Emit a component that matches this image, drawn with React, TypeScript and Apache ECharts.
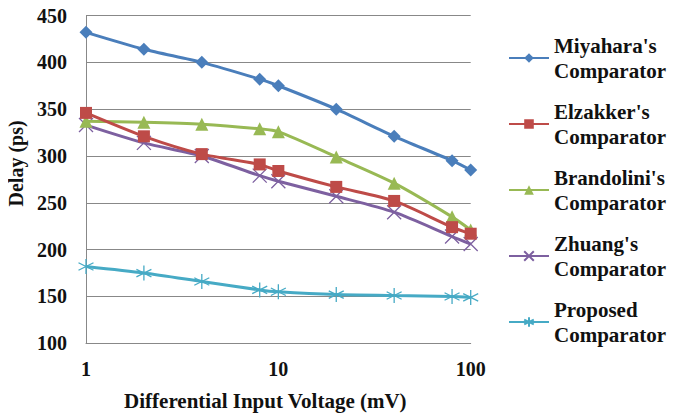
import React, { useEffect, useRef } from "react";
import * as echarts from "echarts";

const voltages = [1, 2, 4, 8, 10, 20, 40, 80, 100];
const miyahara = [432, 414, 400, 382, 375, 350, 321, 295, 285];
const elzakker = [346, 321, 302, 291, 284, 267, 252, 224, 217];
const brandolini = [337, 336, 334, 329, 326, 299, 271, 235, 221];
const zhuang = [333, 314, 300, 279, 273, 257, 240, 214, 206];
const proposed = [182, 175, 166, 157, 155, 152, 151, 150, 149];

const seriesNames = [
  "Miyahara's Comparator",
  "Elzakker's Comparator",
  "Brandolini's Comparator",
  "Zhuang's Comparator",
  "Proposed Comparator",
];
const seriesData = [miyahara, elzakker, brandolini, zhuang, proposed];
const colors = ["#4A7EBB", "#BE4B48", "#98B954", "#7D60A0", "#46AAC5"];
const symbols = [
  "diamond",
  "rect",
  "triangle",
  "path://M0,0 L10,10 M10,0 L0,10",
  "path://M5,0 L5,10 M0.7,2.5 L9.3,7.5 M0.7,7.5 L9.3,2.5",
];
const symbolSizes = [13, 12, 13, 14, 15];

const FONT = "Liberation Serif";

export default function App() {
  const ref = useRef<HTMLDivElement>(null);
  useEffect(() => {
    if (!ref.current) return;
    const chart = echarts.init(ref.current, null, { renderer: "svg" });
    const series = seriesNames.map((name, i) => {
      const isStroke = i >= 3;
      return {
        name,
        type: "line",
        data: voltages.map((v, j) => [v, seriesData[i][j]]),
        smooth: 0.25,
        symbol: symbols[i],
        symbolSize: symbolSizes[i],
        showAllSymbol: true,
        lineStyle: { color: colors[i], width: 3 },
        itemStyle: isStroke
          ? { color: colors[i], borderColor: colors[i], borderWidth: 1.3 }
          : { color: colors[i], borderWidth: 0 },
        z: 10 - i,
      };
    });
    chart.setOption({
      animation: false,
      color: colors,
      textStyle: { fontFamily: FONT },
      grid: {
        left: 78,
        right: 210.3,
        top: 7.5,
        bottom: 72.7,
        containLabel: false,
        outerBoundsMode: "none",
      },
      xAxis: {
        type: "log",
        logBase: 10,
        min: 1,
        max: 100,
        name: "Differential Input Voltage (mV)",
        nameLocation: "middle",
        nameGap: 47,
        nameTextStyle: {
          fontFamily: FONT,
          fontWeight: "bold",
          fontSize: 21,
          color: "#111",
          padding: [0, 26, 0, 0],
        },
        axisLine: { show: true, lineStyle: { color: "#888", width: 1 } },
        axisTick: { show: false },
        splitLine: { show: false },
        axisLabel: {
          fontFamily: FONT,
          fontWeight: "bold",
          fontSize: 20,
          color: "#111",
          margin: 16,
        },
      },
      yAxis: {
        type: "value",
        min: 100,
        max: 450,
        interval: 50,
        name: "Delay (ps)",
        nameLocation: "middle",
        nameGap: 52,
        nameTextStyle: {
          fontFamily: FONT,
          fontWeight: "bold",
          fontSize: 20,
          color: "#111",
          padding: [0, 0, 0, 32],
        },
        axisLine: { show: true, lineStyle: { color: "#888", width: 1 } },
        axisTick: { show: false },
        splitLine: { show: true, lineStyle: { color: "#888", width: 1 } },
        axisLabel: {
          fontFamily: FONT,
          fontWeight: "bold",
          fontSize: 20,
          color: "#111",
          margin: 19,
        },
      },
      legend: {
        orient: "vertical",
        left: 500,
        top: 12.5,
        padding: 0,
        itemWidth: 40,
        itemHeight: 12,
        itemGap: -9,
        data: seriesNames,
        formatter: (name: string) => name.replace(" ", "\n"),
        textStyle: {
          fontFamily: FONT,
          fontWeight: "bold",
          fontSize: 21,
          color: "#111",
          lineHeight: 25,
          padding: [25, 0, 0, 0],
        },
      },
      series,
    });
    return () => chart.dispose();
  }, []);
  return (
    <>
      <style>{`#root text, #root tspan { font-family: "Liberation Serif", "Times New Roman", serif !important; }`}</style>
      <div ref={ref} style={{ width: 673, height: 408, fontFamily: "Liberation Serif" }} />
    </>
  );
}
